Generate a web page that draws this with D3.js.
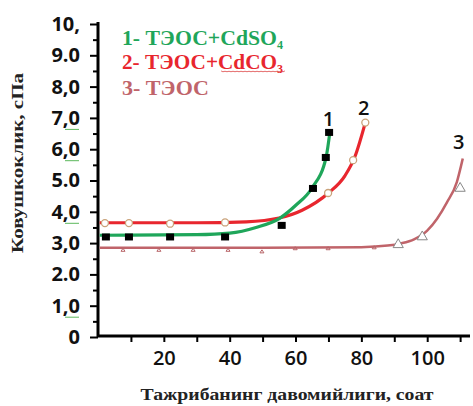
<!DOCTYPE html>
<html><head><meta charset="utf-8">
<script src="https://cdn.jsdelivr.net/npm/d3@7"></script>
<style>body{margin:0;background:#fff}svg{display:block}</style>
</head><body><svg id="c" width="473" height="406"></svg>
<script>
// ---- data ----
const yTickValues = [0,1,2,3,4,5,6,7,8,9,10];
const yTickLabels = ["0","1,0","2.0","3,0","4,0","5.0","6,0","7,0","8,0","9.0","10,"];
const yUnderlined = ["1,0","4,0","6,0","7,0"];
const xTickValues = [10,20,30,40,50,60,70,80,90,100,110];
const xTickLabels = {20:"20",40:"40",60:"60",80:"80",100:"100"};
const seriesNames = ["1- ТЭОС+CdSO","2- ТЭОС+CdCO","3- ТЭОС"];
const seriesSubs = ["4","3",""];
const yTitle = "Ковушкоклик, сПа";
const xTitle = "Тажрибанинг давомийлиги, соат";
// fitted curves
const curve1 = [[0.5,3.25],[30,3.27],[40,3.32],[48,3.5],[55.3,3.8],[60,4.2],[65,4.76],[69.3,5.75],[70.5,6.6]];
const curve2 = [[0.5,3.65],[30,3.65],[45,3.68],[55,3.8],[62,4.05],[70,4.6],[75,5.15],[78,5.75],[81.2,6.85]];
const curve3 = [[0.5,2.85],[50,2.85],[80,2.87],[88,2.92],[92,2.99],[96,3.12],[100,3.4],[103,3.78],[106,4.3],[109,4.95],[110.8,5.7]];
// measured points
const pts1 = [[2.4,3.18],[9.4,3.18],[21.9,3.18],[38.6,3.18],[55.8,3.55],[65.3,4.73],[69.2,5.72],[70.2,6.52]];
const pts2 = [[2.1,3.64],[9.4,3.64],[21.9,3.62],[38.6,3.66],[69.9,4.6],[77.5,5.65],[81.2,6.85]];
const pts3small = [[7.6,2.77],[18.5,2.77],[28.9,2.77],[39.5,2.77],[49.8,2.72],[59.9,2.82],[69.9,2.82],[83.9,2.85]];
const pts3tri = [[91.2,2.95],[98.5,3.2],[110,4.75]];
const curveLabels = [["1",70.6,6.75],["2",81.3,7.1],["3",110.2,6.0]];

const colors = ["#1fa65a","#e8262e","#c0646a"];

const svg = d3.select("#c");
const x = d3.scaleLinear().domain([0,113]).range([98,470]);
const y = d3.scaleLinear().domain([0,10]).range([337,24]);

const tickFont = "'Open Sans', sans-serif";
const serif = "'Liberation Serif','Times New Roman',serif";

// x axis
const xAxis = d3.axisBottom(x).tickValues(xTickValues).tickSize(6).tickPadding(9)
  .tickFormat(d => xTickLabels[d] || "");
const gx = svg.append("g").attr("transform",`translate(0,${y(0)-1})`).call(xAxis);
gx.select(".domain").attr("stroke","#000").attr("stroke-width",3).attr("d",`M${x(0)-1},0H${x(113)}`);
gx.selectAll(".tick line").attr("stroke","#000").attr("stroke-width",2);
gx.selectAll(".tick text").attr("font-family",tickFont).attr("font-size",20).attr("font-weight",600).attr("fill","#111");

// y axis major
const yAxis = d3.axisLeft(y).tickValues(yTickValues).tickSize(8).tickPadding(10)
  .tickFormat((d,i) => yTickLabels[i]);
const gy = svg.append("g").attr("transform",`translate(${x(0)},0)`).call(yAxis);
gy.select(".domain").attr("stroke","#000").attr("stroke-width",3).attr("d",`M0,${y(10)-2}V${y(0)}`);
gy.selectAll(".tick line").attr("stroke","#000").attr("stroke-width",2);
gy.selectAll(".tick text").attr("font-family",tickFont).attr("font-size",20).attr("font-weight",700).attr("fill","#111");
// green spell-check underlines under some labels
gy.selectAll(".tick").filter((d,i)=>yUnderlined.includes(yTickLabels[i]))
  .append("line").attr("x1",-33).attr("x2",-19).attr("y1",11).attr("y2",11)
  .attr("stroke","#5cb85c").attr("stroke-width",1);
// y minor ticks
const minor = d3.range(0.5,10,1);
const gym = svg.append("g").attr("transform",`translate(${x(0)},0)`)
  .call(d3.axisLeft(y).tickValues(minor).tickSize(5).tickFormat(""));
gym.select(".domain").remove();
gym.selectAll(".tick line").attr("stroke","#000").attr("stroke-width",2);

// axis titles
svg.append("text").attr("transform",`translate(23,163) rotate(-90)`)
  .attr("text-anchor","middle").attr("font-family",serif).attr("font-weight",700)
  .attr("font-size",17).attr("fill","#222")
  .attr("textLength",180).attr("lengthAdjust","spacingAndGlyphs").text(yTitle);
svg.append("text").attr("x",287).attr("y",400).attr("text-anchor","middle")
  .attr("font-family",serif).attr("font-weight",700).attr("font-size",17).attr("fill","#222")
  .attr("textLength",293).attr("lengthAdjust","spacingAndGlyphs").text(xTitle);

// curves
const line = d3.line().x(d=>x(d[0])).y(d=>y(d[1])).curve(d3.curveMonotoneX);
[[curve3,2.5,2],[curve2,3.2,1],[curve1,3.2,0]].forEach(([c,w,idx])=>{
  svg.append("path").datum(c).attr("d",line).attr("fill","none")
    .attr("stroke",colors[idx]).attr("stroke-width",w);
});

// markers
svg.append("g").selectAll("rect").data(pts1).join("rect")
  .attr("x",d=>x(d[0])-4).attr("y",d=>y(d[1])-4).attr("width",8).attr("height",7).attr("fill","#000");
svg.append("g").selectAll("circle").data(pts2).join("circle")
  .attr("cx",d=>x(d[0])).attr("cy",d=>y(d[1])).attr("r",3.5)
  .attr("fill","#fff").attr("stroke","#c9a27a").attr("stroke-width",1.3);
svg.append("g").selectAll("path").data(pts3small).join("path")
  .attr("d",d=>`M${x(d[0])-2},${y(d[1])+1}L${x(d[0])},${y(d[1])-2}L${x(d[0])+2},${y(d[1])+1}Z`)
  .attr("fill","none").attr("stroke","#b86468").attr("stroke-width",1);
svg.append("g").selectAll("path").data(pts3tri).join("path")
  .attr("d",d=>d3.symbol(d3.symbolTriangle,45)())
  .attr("transform",d=>`translate(${x(d[0])},${y(d[1])})`)
  .attr("fill","#fff").attr("stroke","#888").attr("stroke-width",1);

// curve labels
svg.append("g").selectAll("text").data(curveLabels).join("text")
  .attr("x",d=>x(d[1])-2).attr("y",d=>y(d[2])).attr("text-anchor","middle")
  .attr("font-family",tickFont).attr("font-weight",600).attr("font-size",20).attr("fill","#111")
  .text(d=>d[0]);

// legend
const legLen = [155,155,87];
const legY = [45,69,95];
const leg = svg.append("g");
seriesNames.forEach((n,i)=>{
  const t = leg.append("text").attr("x",122).attr("y",legY[i])
    .attr("font-family",serif).attr("font-weight",700).attr("font-size",20).attr("fill",colors[i]);
  t.append("tspan").attr("textLength",legLen[i]).attr("lengthAdjust","spacingAndGlyphs").text(n);
  if (seriesSubs[i]) t.append("tspan").attr("font-size",12).attr("dy",4).text(seriesSubs[i]);
});
// red wavy spell-check underline under CdCO3
leg.append("path")
  .attr("d",d3.line().curve(d3.curveBasis)(d3.range(0,33).map(k=>[221+k*2, legY[1]+2+(k%2?1.2:-0.2)])))
  .attr("fill","none").attr("stroke","#d44").attr("stroke-width",0.8);
</script></body></html>
